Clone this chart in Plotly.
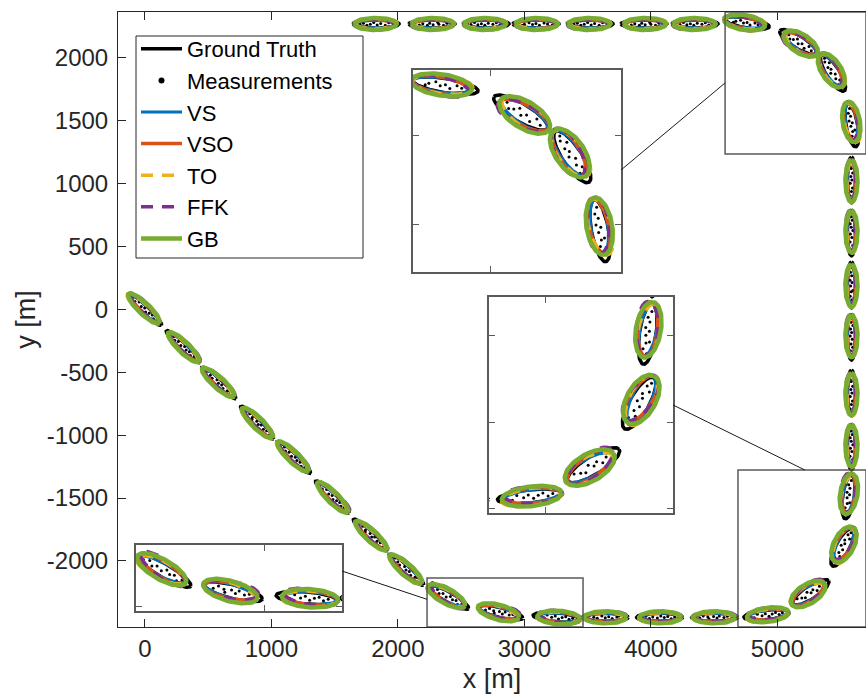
import numpy as np
import plotly.graph_objects as go

# ---------------- data (metres) ----------------
# ground-truth extent ellipses: centre, orientation (deg, direction of travel), semi-axes
gt_x = [0, 302, 584, 887, 1177, 1482, 1783, 2067, 2402, 2810, 3253, 3640, 4070, 4505, 4915, 5264, 5515, 5562,
        5586, 5586, 5586, 5586, 5586, 5586, 5589, 5440, 5164, 4760, 4349, 3946, 3519, 3092, 2697, 2270, 1828]
gt_y = [0, -296, -585, -900, -1176, -1491, -1793, -2069, -2289, -2411, -2448, -2448, -2448, -2448, -2429, -2249,
        -1891, -1491, -1094, -665, -220, 195, 608, 1029, 1466, 1879, 2126, 2277, 2269, 2269, 2269, 2269, 2269, 2269, 2269]
gt_ang = [-44, -44, -43, -45, -44, -44, -43, -42, -30, -14, -5, 0, 0, 0, 6, 33, 62, 82,
          90, 90, 90, 90, 90, 90, 100, 122, 148, 170, 180, 180, 180, 180, 180, 180, 180]
gt_a = [182, 182, 182, 182, 182, 182, 182, 182, 180, 182, 184, 182, 182, 182, 180, 168, 168, 176,
        182, 182, 182, 182, 182, 182, 176, 168, 168, 178, 182, 182, 182, 182, 182, 182, 182]
gt_b = [30, 30, 30, 30, 30, 30, 30, 32, 40, 40, 36, 32, 32, 32, 38, 52, 54, 46,
        32, 32, 32, 32, 32, 32, 46, 52, 50, 40, 32, 32, 32, 32, 32, 32, 32]

# common along-track offset of the estimates w.r.t. ground truth (m)
est_shift = [-10, 8, -6, 5, -8, 6, 10, -5, -20, -15, 20, 0, 5, -5, 10, -25, 25, 25,
             10, -10, 8, -6, 10, -8, 25, 25, -25, 20, 5, -8, 6, -5, 8, -6, 4]

# per-estimator orientation offsets (deg)
vs_dang = [1, -1, 1, 0, -1, 1, 0, -1, 3, -2, 2, 0, 1, -1, 2, -3, 3, -2, 1, -1, 0, 1, -1, 0, -3, 2, -3, 2, 0, 1, -1, 0, 1, -1, 0]
vso_dang = [-1, 1, 0, 1, -1, 0, 1, 0, -3, 3, -2, 1, 0, 1, -2, 4, -4, 3, -1, 0, 1, -1, 0, 1, 3, -3, 3, -2, 1, 0, -1, 1, 0, 1, -1]
to_dang = [2, 0, -1, 1, 1, -1, 0, 1, 4, -3, 3, -1, 1, 0, 3, -5, 5, -4, 1, 1, -1, 0, 1, -1, 4, 4, -4, 3, -1, 1, 0, -1, 1, 0, 1]
ffk_dang = [-2, 1, 1, -1, 0, 2, -1, -1, -6, 5, -4, 1, -1, 1, -4, 6, -6, 5, -1, 0, 1, -1, 1, 0, -5, -5, 5, -4, 1, -1, 1, 0, -1, 1, -1]
gb_dang = [0, 0, 1, 0, 0, -1, 0, 0, 1, -1, 1, 0, 0, 0, 1, -1, 1, -1, 0, 0, 0, 0, 0, 0, -1, 1, -1, 1, 0, 0, 0, 0, 0, 0, 0]

# per-estimator size factors and offsets (along, across, m)
est_names = ["VS", "VSO", "TO", "FFK", "GB"]
est_ka = [0.88, 0.90, 0.91, 0.90, 0.92]
est_kb = [1.00, 1.15, 1.30, 1.28, 1.50]
est_ds = [0, 4, -6, 6, 0]
est_dn = [0, 3, -4, 7, 0]
est_dangs = [vs_dang, vso_dang, to_dang, ffk_dang, gb_dang]

# measurement positions in ellipse-local coordinates (fractions of semi-axes)
meas_u = [
    [-0.75, -0.55, -0.4, -0.2, -0.05, 0.1, 0.25, 0.4, 0.55, 0.7],
    [-0.8, -0.6, -0.45, -0.3, -0.1, 0.05, 0.2, 0.35, 0.5, 0.65, 0.8],
    [-0.7, -0.5, -0.35, -0.15, 0.0, 0.15, 0.3, 0.5, 0.6],
    [-0.65, -0.5, -0.3, -0.25, -0.05, 0.1, 0.2, 0.4, 0.55, 0.75],
]
meas_v = [
    [0.1, -0.3, 0.35, -0.1, 0.25, -0.35, 0.05, 0.3, -0.2, 0.1],
    [-0.1, 0.25, -0.3, 0.1, -0.2, 0.3, -0.05, 0.2, -0.35, 0.15, -0.1],
    [0.3, 0.0, -0.25, 0.3, -0.1, 0.15, -0.3, 0.05, 0.35],
    [-0.2, 0.3, 0.05, -0.35, 0.2, -0.15, 0.35, -0.05, 0.25, -0.1],
]
meas_pat = [0, 1, 2, 3, 1, 0, 3, 2, 1, 3, 0, 2, 1, 3, 0, 2, 1, 3,
            0, 2, 1, 3, 0, 2, 3, 1, 0, 2, 1, 3, 0, 2, 1, 3, 0]

# axis ranges (main and three zoom insets)
main_xr = [-212, 5701]
main_yr = [-2525, 2364]
in1_xr, in1_yr = [4587, 5701], [1235, 2364]
in2_xr, in2_yr = [4689, 5701], [-2525, -1277]
in3_xr, in3_yr = [2231, 3464], [-2525, -2135]

x_ticks = [0, 1000, 2000, 3000, 4000, 5000]
x_ticktext = ["0", "1000", "2000", "3000", "4000", "5000"]
y_ticks = [-2000, -1500, -1000, -500, 0, 500, 1000, 1500, 2000]
y_ticktext = ["-2000", "-1500", "-1000", "-500", "0", "500", "1000", "1500", "2000"]

# ---------------- geometry helpers ----------------
t = np.linspace(0, 2 * np.pi, 120)


def ellipse(cx, cy, ang, a, b):
    th = np.deg2rad(ang)
    x = cx + a * np.cos(t) * np.cos(th) - b * np.sin(t) * np.sin(th)
    y = cy + a * np.cos(t) * np.sin(th) + b * np.sin(t) * np.cos(th)
    return list(x) + [None], list(y) + [None]


def gt_path():
    X, Y = [], []
    for i in range(len(gt_x)):
        x, y = ellipse(gt_x[i], gt_y[i], gt_ang[i], gt_a[i], gt_b[i])
        X += x
        Y += y
    return X, Y


def est_path(k):
    X, Y = [], []
    for i in range(len(gt_x)):
        th = np.deg2rad(gt_ang[i])
        s = est_shift[i] + est_ds[k]
        n = est_dn[k]
        cx = gt_x[i] + s * np.cos(th) - n * np.sin(th)
        cy = gt_y[i] + s * np.sin(th) + n * np.cos(th)
        x, y = ellipse(cx, cy, gt_ang[i] + est_dangs[k][i], gt_a[i] * est_ka[k], gt_b[i] * est_kb[k])
        X += x
        Y += y
    return X, Y


def meas_points():
    X, Y = [], []
    for i in range(len(gt_x)):
        th = np.deg2rad(gt_ang[i])
        p = meas_pat[i]
        for u, v in zip(meas_u[p], meas_v[p]):
            lu, lv = u * gt_a[i], v * gt_b[i]
            X.append(gt_x[i] + lu * np.cos(th) - lv * np.sin(th))
            Y.append(gt_y[i] + lu * np.sin(th) + lv * np.cos(th))
    return X, Y


# ---------------- styles ----------------
est_colors = ["#0072BD", "#D95319", "#EDB120", "#7E2F8E", "#77AC30"]
est_widths = [3, 3.5, 3.5, 3.5, 4.5]
est_dash = ["solid", "solid", "12px,9px", "12px,9px", "solid"]

fig = go.Figure()
gx, gy = gt_path()
mx, my = meas_points()
ests = [est_path(k) for k in range(5)]

subplots = [("x", "y"), ("x2", "y2"), ("x3", "y3"), ("x4", "y4")]
for si, (xa, ya) in enumerate(subplots):
    first = si == 0
    fig.add_trace(go.Scatter(x=gx, y=gy, mode="lines", name="Ground Truth",
                             line=dict(color="black", width=3.5), xaxis=xa, yaxis=ya,
                             showlegend=first, legendrank=1, hoverinfo="skip"))
    fig.add_trace(go.Scatter(x=mx, y=my, mode="markers", name="Measurements",
                             marker=dict(color="black", size=3), xaxis=xa, yaxis=ya,
                             showlegend=False, hoverinfo="skip"))
    for k in range(5):
        ex, ey = ests[k]
        fig.add_trace(go.Scatter(x=ex, y=ey, mode="lines", name=est_names[k],
                                 line=dict(color=est_colors[k], width=est_widths[k], dash=est_dash[k]),
                                 xaxis=xa, yaxis=ya, showlegend=first, legendrank=3 + k,
                                 hoverinfo="skip"))

# legend-only entry for the measurement dots (larger symbol like the reference legend)
fig.add_trace(go.Scatter(x=[None], y=[None], mode="markers", name="Measurements",
                         marker=dict(color="black", size=6), showlegend=True, legendrank=2,
                         hoverinfo="skip"))

# ---------------- layout ----------------
W, H = 866, 700
ML, MR, MT, MB = 118, 0, 12, 73
PW, PH = W - ML - MR, H - MT - MB


def dom_x(p0, p1):
    return [(p0 - ML) / PW, (p1 - ML) / PW]


def dom_y(p0, p1):
    return [(H - MB - p1) / PH, (H - MB - p0) / PH]


ax_col = "#262626"
inset_col = "#5a5a5a"
font = "Liberation Sans, Arial, Helvetica, sans-serif"

main_common = dict(showgrid=False, zeroline=False, showline=True, ticks="inside", ticklen=8,
                   tickwidth=1, tickcolor=ax_col, linecolor=ax_col, linewidth=1,
                   tickfont=dict(size=24, color=ax_col, family=font))

inset_common = dict(showgrid=False, zeroline=False, showline=True, mirror="ticks", ticks="inside",
                    ticklen=6, tickwidth=1, tickcolor=inset_col, linecolor=inset_col, linewidth=1.5,
                    showticklabels=False)

in1_dx, in1_dy = dom_x(413, 621), dom_y(70, 272)
in2_dx, in2_dy = dom_x(489, 673), dom_y(297, 513)
in3_dx, in3_dy = dom_x(136, 342), dom_y(545, 611)
leg_dx, leg_dy = dom_x(136, 363), dom_y(36, 258)

fig.update_layout(
    width=W, height=H,
    margin=dict(l=ML, r=MR, t=MT, b=MB, pad=0),
    paper_bgcolor="white", plot_bgcolor="white",
    font=dict(family=font, color="black"),
    xaxis=dict(domain=[0, 1], range=main_xr, tickvals=x_ticks, ticktext=x_ticktext, mirror="ticks",
               title=dict(text="x [m]", font=dict(size=27, color=ax_col), standoff=8), **main_common),
    yaxis=dict(domain=[0, 1], range=main_yr, tickvals=y_ticks, ticktext=y_ticktext, mirror=False,
               ticklabelstandoff=4,
               title=dict(text="y [m]", font=dict(size=27, color=ax_col), standoff=3), **main_common),
    xaxis2=dict(domain=in1_dx, range=in1_xr, anchor="y2", dtick=1000, **inset_common),
    yaxis2=dict(domain=in1_dy, range=in1_yr, anchor="x2", dtick=500, **inset_common),
    xaxis3=dict(domain=in2_dx, range=in2_xr, anchor="y3", dtick=1000, **inset_common),
    yaxis3=dict(domain=in2_dy, range=in2_yr, anchor="x3", dtick=500, **inset_common),
    xaxis4=dict(domain=in3_dx, range=in3_xr, anchor="y4", dtick=1000, **inset_common),
    yaxis4=dict(domain=in3_dy, range=in3_yr, anchor="x4", dtick=500, **inset_common),
    legend=dict(x=leg_dx[0], y=dom_y(28, 28)[0], xanchor="left", yanchor="top",
                bgcolor="rgba(0,0,0,0)", borderwidth=0,
                font=dict(size=22, color="black", family=font), tracegroupgap=0,
                itemwidth=41),
    showlegend=True,
)


# zoom boxes in the main axes and connector lines
def main_x_at(frac):
    return main_xr[0] + frac * (main_xr[1] - main_xr[0])


shapes = []
# legend frame (white box behind the legend entries)
shapes.append(dict(type="rect", xref="paper", yref="paper", x0=leg_dx[0], x1=leg_dx[1],
                   y0=leg_dy[0], y1=leg_dy[1], fillcolor="white",
                   line=dict(color=ax_col, width=1), layer="above"))
for xr, yr in [(in1_xr, in1_yr), (in2_xr, in2_yr), (in3_xr, in3_yr)]:
    shapes.append(dict(type="rect", xref="x", yref="y", x0=xr[0], x1=xr[1], y0=yr[0], y1=yr[1],
                       line=dict(color=inset_col, width=1.5)))
# connectors: inset edge -> box edge
conn = [
    (main_x_at(in1_dx[1]), 1108, in1_xr[0], 1800),
    (main_x_at(in2_dx[1]), -760, 5218, in2_yr[1]),
    (main_x_at(in3_dx[1]), -2080, in3_xr[0], -2305),
]
for x0, y0, x1, y1 in conn:
    shapes.append(dict(type="line", xref="x", yref="y", x0=x0, y0=y0, x1=x1, y1=y1,
                       line=dict(color="#1a1a1a", width=1)))
fig.update_layout(shapes=shapes)

fig.write_html("out.html")
